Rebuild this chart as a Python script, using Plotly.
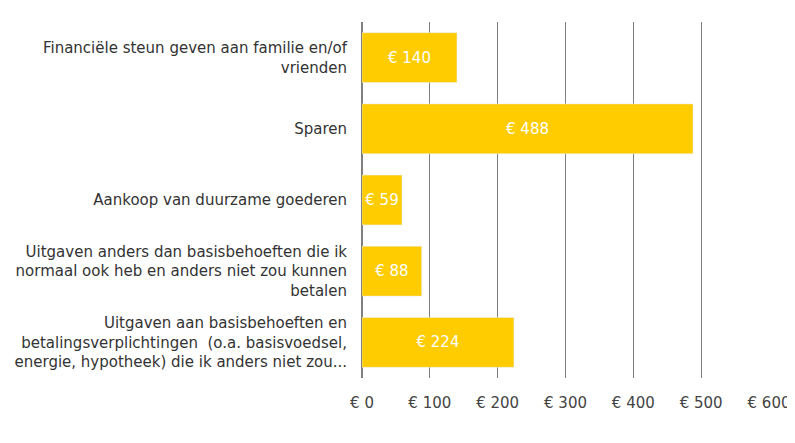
import plotly.graph_objects as go

categories = [
    "Uitgaven aan basisbehoeften en<br>betalingsverplichtingen  (o.a. basisvoedsel,<br>energie, hypotheek) die ik anders niet zou...",
    "Uitgaven anders dan basisbehoeften die ik<br>normaal ook heb en anders niet zou kunnen<br>betalen",
    "Aankoop van duurzame goederen",
    "Sparen",
    "Financiële steun geven aan familie en/of<br>vrienden",
]
values = [224, 88, 59, 488, 140]
tick_vals = [0, 100, 200, 300, 400, 500, 600]
tick_text = ["€ " + str(v) for v in tick_vals]

fig = go.Figure(go.Bar(
    x=values, y=categories, orientation="h",
    marker_color="#FFCC00",
    text=["€ " + str(v) for v in values],
    textposition="inside", insidetextanchor="middle",
    textfont=dict(color="white", size=15, family="DejaVu Sans"),
))
fig.update_layout(
    width=795, height=443,
    margin=dict(l=354, r=34, t=14, b=73),
    plot_bgcolor="white", paper_bgcolor="white",
    bargap=0.3, showlegend=False,
    font=dict(family="DejaVu Sans", size=15, color="#333333"),
    xaxis=dict(range=[0, 600], tickvals=tick_vals, ticktext=tick_text,
               showgrid=True, gridcolor="#808080", gridwidth=1,
               zeroline=True, zerolinecolor="#808080", ticks="",
               automargin=False, ticklabelstandoff=14,
               tickfont=dict(size=15, color="#444444")),
    yaxis=dict(showgrid=False, ticks="", ticklabelstandoff=14, automargin=False,
               tickfont=dict(size=15, color="#333333")),
)
fig.write_html("out.html")
